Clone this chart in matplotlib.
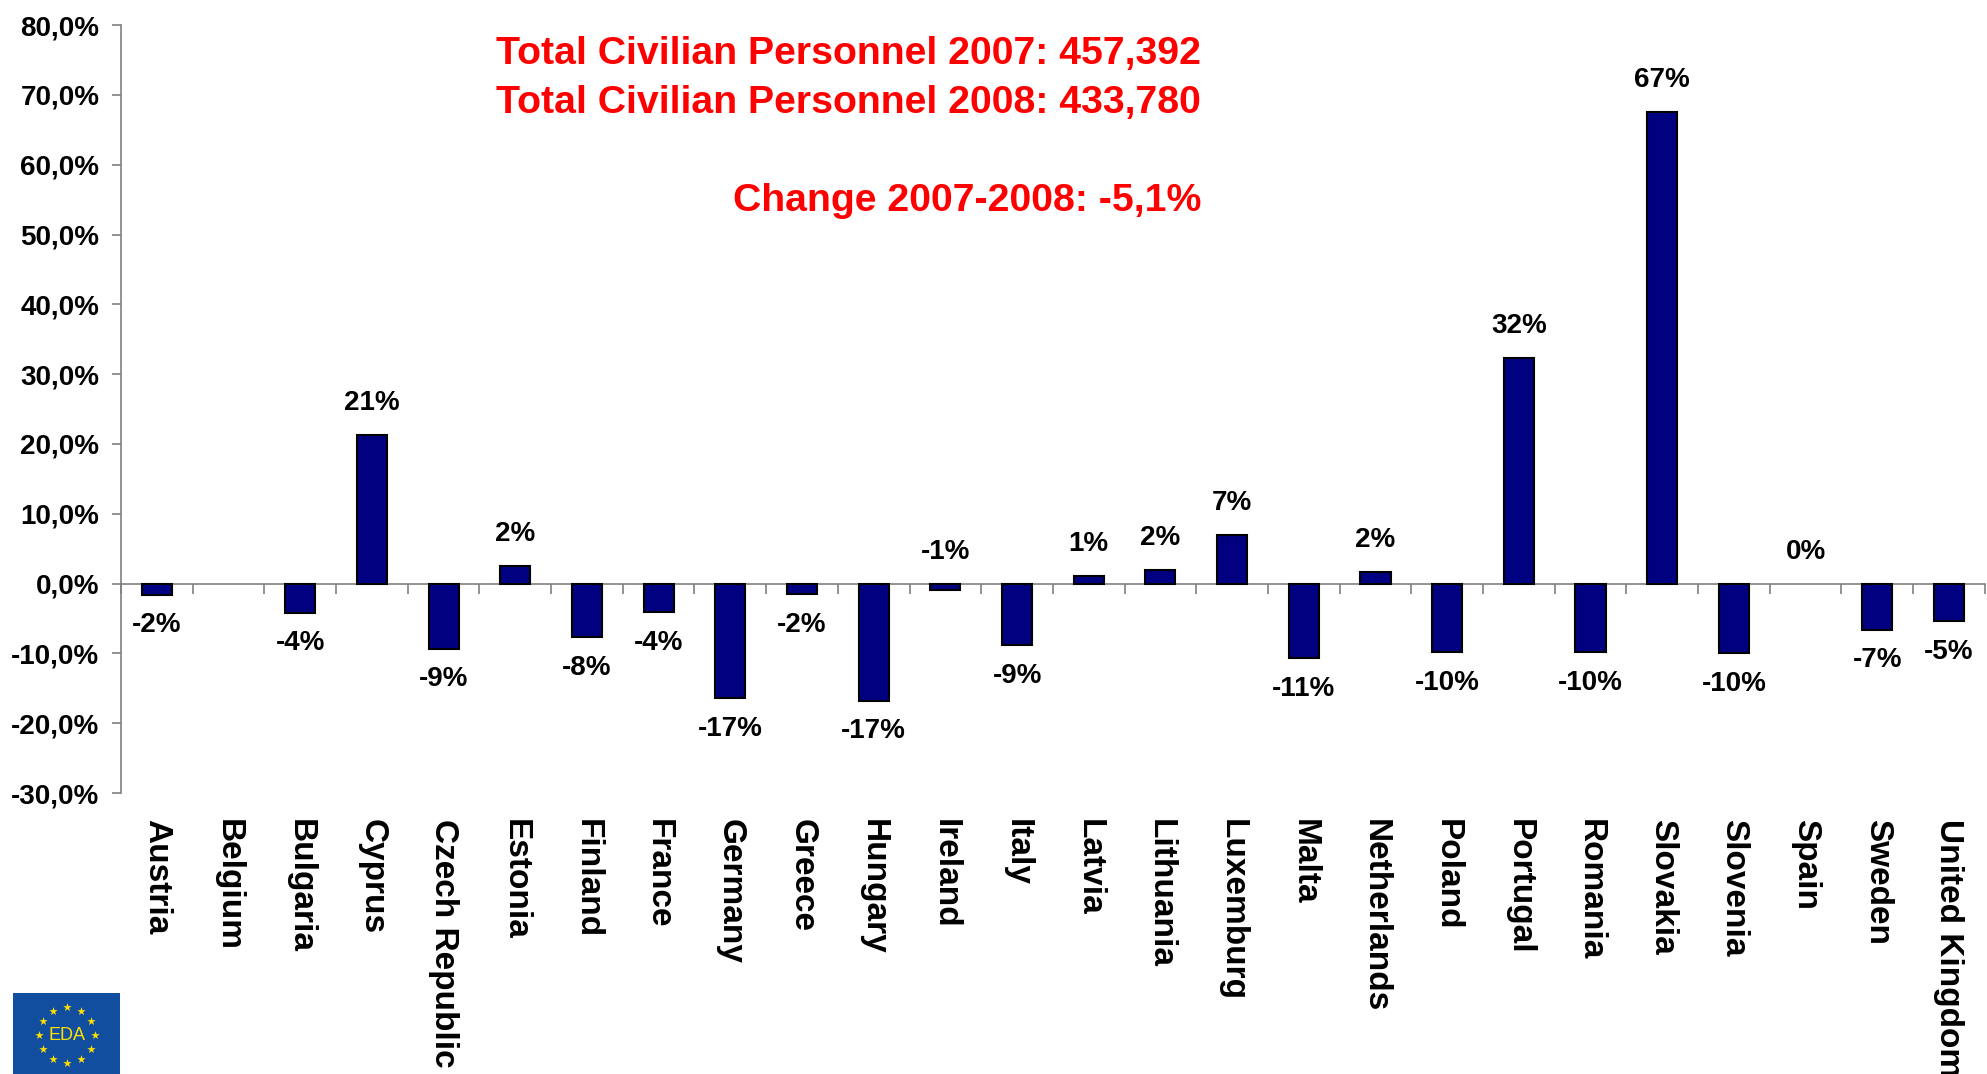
import numpy as np
import matplotlib
matplotlib.use("Agg")
import matplotlib.pyplot as plt

plt.rcParams['font.family'] = ['Liberation Sans', 'DejaVu Sans']
plt.rcParams['font.weight'] = 'bold'

countries = ['Austria', 'Belgium', 'Bulgaria', 'Cyprus', 'Czech Republic', 'Estonia',
             'Finland', 'France', 'Germany', 'Greece', 'Hungary', 'Ireland', 'Italy',
             'Latvia', 'Lithuania', 'Luxemburg', 'Malta', 'Netherlands', 'Poland',
             'Portugal', 'Romania', 'Slovakia', 'Slovenia', 'Spain', 'Sweden',
             'United Kingdom']
# change 2007-2008 in %, Belgium has no data
change = [-1.6, np.nan, -4.2, 21.3, -9.3, 2.5, -7.7, -4.1, -16.4, -1.5, -16.8, -0.9,
          -8.8, 1.1, 1.9, 6.9, -10.7, 1.6, -9.8, 32.3, -9.8, 67.5, -10.0, 0.0, -6.6, -5.4]
labels = ['-2%', '', '-4%', '21%', '-9%', '2%', '-8%', '-4%', '-17%', '-2%', '-17%', '-1%',
          '-9%', '1%', '2%', '7%', '-11%', '2%', '-10%', '32%', '-10%', '67%', '-10%', '0%',
          '-7%', '-5%']
info_lines = ['Total Civilian Personnel 2007: 457,392',
              'Total Civilian Personnel 2008: 433,780',
              'Change 2007-2008: -5,1%']

grey = '#808080'

fig = plt.figure(figsize=(19.87, 10.74), dpi=100)
ax = fig.add_axes([0.0609, 0.2616, 0.938, 0.715])

x = np.arange(len(countries))
vals = np.array(change, dtype=float)
# no visible bar for missing or zero values
has_bar = ~np.isnan(vals) & (vals != 0)
ax.bar(x[has_bar], vals[has_bar], width=0.42, color='#000080', edgecolor='black',
       linewidth=1.5, zorder=3)

# value labels
for xi, v, lab in zip(x, vals, labels):
    if np.isnan(v) or lab == '':
        continue
    if v >= -1:
        ax.annotate(lab, (xi, max(v, 0)), xytext=(0, 23), textcoords='offset points',
                    ha='center', va='center', fontsize=20, fontweight='bold')
    else:
        ax.annotate(lab, (xi, v), xytext=(0, -22), textcoords='offset points',
                    ha='center', va='center', fontsize=20, fontweight='bold')

ax.set_xlim(-0.5, len(countries) - 0.5)
ax.set_ylim(-30, 80)
ax.set_yticks(np.arange(-30, 81, 10))
ax.set_yticklabels([f'{t:.1f}%'.replace('.', ',') for t in np.arange(-30, 81, 10)])
ax.tick_params(axis='y', length=6.5, width=1.2, color=grey, labelsize=20, pad=9)

# category axis line sits at zero, tick marks between categories
ax.spines['bottom'].set_position(('data', 0))
ax.spines['bottom'].set_color(grey)
ax.spines['bottom'].set_linewidth(1.2)
ax.spines['left'].set_color(grey)
ax.spines['left'].set_linewidth(1.2)
ax.spines['top'].set_visible(False)
ax.spines['right'].set_visible(False)
ax.set_xticks(x)
ax.set_xticklabels([])
ax.tick_params(axis='x', which='major', length=0)
ax.set_xticks(np.arange(-0.5, len(countries), 1), minor=True)
ax.tick_params(axis='x', which='minor', length=7, width=1.2, color=grey)

# country names at the bottom of the plot
sec = ax.secondary_xaxis(0.0)
sec.set_xticks(x)
sec.set_xticklabels(countries, rotation=-90, fontsize=24, fontweight='bold', va='top')
sec.tick_params(length=0, pad=19)
sec.spines['bottom'].set_visible(False)

ys = [1 - 54 / 1074, 1 - 103 / 1074, 1 - 201 / 1074]
for txt, y in zip(info_lines, ys):
    fig.text(1201 / 1987, y, txt, ha='right', va='center', color='#FF0000',
             fontsize=28.3, fontweight='bold')

# EDA logo
lg = fig.add_axes([13 / 1987, 0, 107 / 1987, 81 / 1074])
lg.set_facecolor('#114EA0')
lg.set_xlim(0, 107)
lg.set_ylim(81, 0)
lg.set_xticks([])
lg.set_yticks([])
for s in lg.spines.values():
    s.set_visible(False)
ang = np.arange(12) * np.pi / 6
lg.scatter(54 + 28 * np.cos(ang), 42 + 28 * np.sin(ang), marker='*', s=40,
           color='#FFE000', linewidths=0)
lg.text(54, 43, 'EDA', ha='center', va='center', color='#FFE000', fontsize=13,
        fontweight='normal')

fig.savefig('out.png', dpi=100)
